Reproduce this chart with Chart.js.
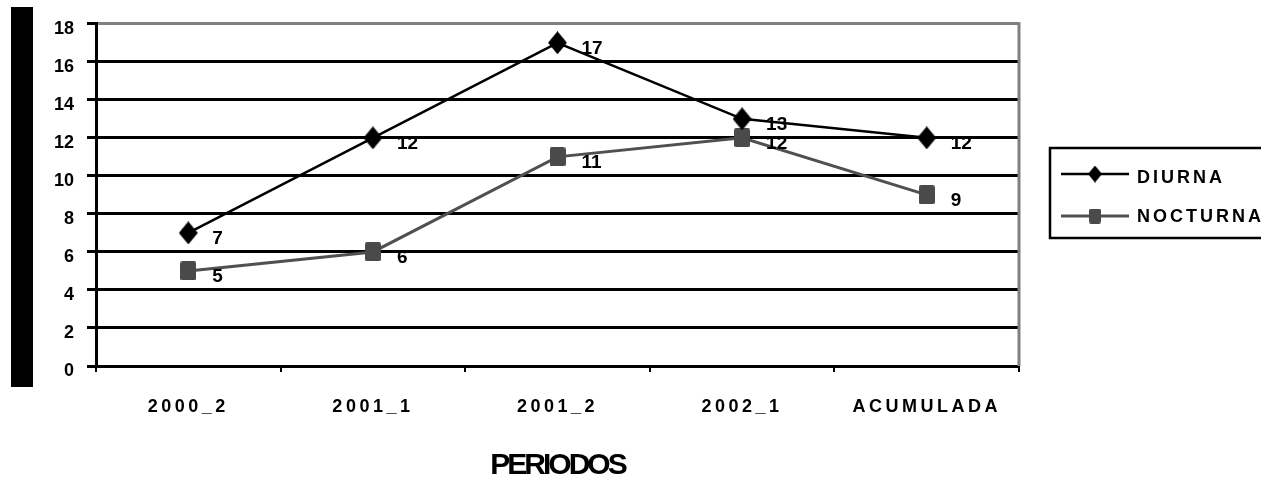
<!DOCTYPE html>
<html>
<head>
<meta charset="utf-8">
<script src="https://cdn.jsdelivr.net/npm/chart.js@4"></script>
<style>
html,body{margin:0;padding:0;background:#fff;}
canvas{display:block;}
</style>
</head>
<body>
<canvas id="c" width="1261" height="481"></canvas>
<script>
const categories = ['2000_2', '2001_1', '2001_2', '2002_1', 'ACUMULADA'];
const seriesNames = ['DIURNA', 'NOCTURNA'];
const diurna = [7, 12, 17, 13, 12];
const nocturna = [5, 6, 11, 12, 9];
const yMin = 0, yMax = 18, yStep = 2;
const axisTitle = 'PERIODOS';

const FONT = "'Liberation Sans', Arial, sans-serif";

function diamondImg(w, h, color) {
  const c = document.createElement('canvas');
  c.width = w; c.height = h;
  const g = c.getContext('2d');
  g.fillStyle = color;
  g.beginPath();
  g.moveTo(w / 2, 0); g.lineTo(w, h / 2); g.lineTo(w / 2, h); g.lineTo(0, h / 2);
  g.closePath(); g.fill();
  return c;
}
function squareImg(w, h, color) {
  const c = document.createElement('canvas');
  c.width = w; c.height = h;
  const g = c.getContext('2d');
  g.fillStyle = color;
  g.beginPath();
  if (g.roundRect) g.roundRect(0, 0, w, h, 2); else g.rect(0, 0, w, h);
  g.fill();
  return c;
}

const diamondBig = diamondImg(19, 23, '#000');
const squareBig = squareImg(16, 19, '#4a4a4a');
const diamondSmall = diamondImg(14, 17, '#000');
const squareSmall = squareImg(12, 15, '#4a4a4a');

const decorPlugin = {
  id: 'decor',
  beforeDraw(chart) {
    const ctx = chart.ctx;
    ctx.save();
    ctx.fillStyle = '#fff';
    ctx.fillRect(0, 0, chart.width, chart.height);
    ctx.fillStyle = '#000';
    ctx.fillRect(11, 7, 22, 380);
    ctx.restore();
    const xs = chart.scales.x;
    if (xs && !xs._wrappedLS) {
      xs._wrappedLS = true;
      const origLabels = xs.drawLabels.bind(xs);
      xs.drawLabels = function (ca) {
        chart.ctx.save();
        chart.ctx.letterSpacing = '3.5px';
        origLabels(ca);
        chart.ctx.restore();
      };
      const origTitle = xs.drawTitle.bind(xs);
      xs.drawTitle = function () {
        chart.ctx.save();
        chart.ctx.letterSpacing = '-3px';
        origTitle();
        chart.ctx.restore();
      };
    }
  },
  beforeDatasetsDraw(chart) {
    const ctx = chart.ctx, a = chart.chartArea;
    ctx.save();
    ctx.strokeStyle = '#808080';
    ctx.lineWidth = 3;
    ctx.beginPath();
    ctx.moveTo(a.right, a.top - 1.5);
    ctx.lineTo(a.right, a.bottom);
    ctx.stroke();
    ctx.restore();
  },
  afterDatasetsDraw(chart) {
    const ctx = chart.ctx;
    ctx.save();
    ctx.font = 'bold 19px ' + FONT;
    ctx.fillStyle = '#000';
    ctx.textAlign = 'left';
    ctx.textBaseline = 'middle';
    chart.data.datasets.forEach((ds, i) => {
      const meta = chart.getDatasetMeta(i);
      meta.data.forEach((pt, j) => {
        ctx.fillText(String(ds.data[j]), pt.x + 24, pt.y + 6);
      });
    });
    ctx.restore();

    // legend
    ctx.save();
    ctx.strokeStyle = '#000';
    ctx.lineWidth = 2.5;
    ctx.strokeRect(1050, 148, 300, 90);
    const rows = [
      { y: 174, ty: 178, color: '#000', w: 2.5, img: diamondSmall },
      { y: 216, ty: 217, color: '#505050', w: 3, img: squareSmall }
    ];
    ctx.font = 'bold 18px ' + FONT;
    ctx.letterSpacing = '3px';
    ctx.textAlign = 'left';
    ctx.textBaseline = 'middle';
    chart.data.datasets.forEach((ds, i) => {
      const r = rows[i];
      ctx.strokeStyle = r.color;
      ctx.lineWidth = r.w;
      ctx.beginPath();
      ctx.moveTo(1061, r.y); ctx.lineTo(1129, r.y);
      ctx.stroke();
      ctx.drawImage(r.img, 1095 - r.img.width / 2, r.y - r.img.height / 2);
      ctx.fillStyle = '#000';
      ctx.fillText(ds.label, 1137, r.ty);
    });
    ctx.restore();
  }
};

new Chart(document.getElementById('c'), {
  type: 'line',
  data: {
    labels: categories,
    datasets: [
      {
        label: seriesNames[0], data: diurna,
        borderColor: '#000', borderWidth: 2.5, tension: 0,
        pointStyle: diamondBig, pointRadius: 10, backgroundColor: '#000'
      },
      {
        label: seriesNames[1], data: nocturna,
        borderColor: '#505050', borderWidth: 3, tension: 0,
        pointStyle: squareBig, pointRadius: 10, backgroundColor: '#4a4a4a'
      }
    ]
  },
  options: {
    responsive: false,
    animation: false,
    events: [],
    layout: { padding: { top: 22, right: 242, left: 0, bottom: 0 } },
    plugins: { legend: { display: false }, tooltip: { enabled: false } },
    scales: {
      x: {
        offset: true,
        grid: { offset: true, drawOnChartArea: false, drawTicks: true, tickLength: 6, color: '#000', lineWidth: 2 },
        border: { color: '#000', width: 3 },
        ticks: { font: { family: FONT, weight: 'bold', size: 18 }, color: '#000', padding: 24, maxRotation: 0, autoSkip: false },
        title: { display: true, text: axisTitle, font: { family: FONT, weight: 'bold', size: 30 }, color: '#000', padding: { top: 0, bottom: -3 } },
        afterFit(s) { s.height = 115; }
      },
      y: {
        min: yMin, max: yMax,
        ticks: { stepSize: yStep, font: { family: FONT, weight: 'bold', size: 18 }, color: '#000', padding: 13, labelOffset: 5 },
        grid: { color: (c) => (c.tick && c.tick.value === yMax ? '#808080' : '#000'), lineWidth: 3, tickLength: 9, tickColor: '#000', tickWidth: 3 },
        border: { color: '#000', width: 3 },
        afterFit(s) { s.width = 96; }
      }
    }
  },
  plugins: [decorPlugin]
});
</script>
</body>
</html>
